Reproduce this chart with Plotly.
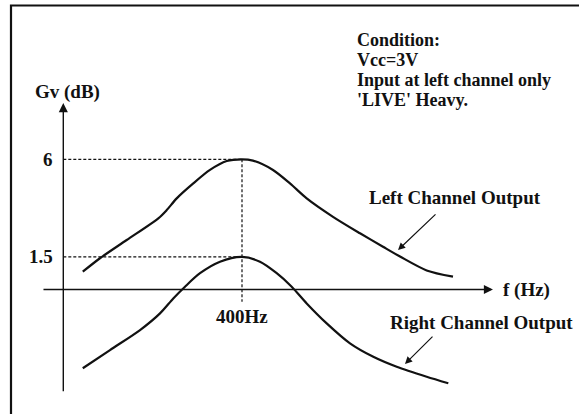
import math
import plotly.graph_objects as go

# ---- data (frequency in Hz, gain in dB) ----
left_freq = [20.3, 28.0, 46.2, 83.5, 97.7, 117.8, 160.7, 219.7, 300.4, 400,
             491, 714.6, 982, 1343, 2198, 3643, 5603, 7702, 12693, 20773]
left_gain = [0.82, 1.44, 2.28, 3.28, 3.66, 4.20, 4.89, 5.51, 5.92, 6.0,
             5.94, 5.51, 4.89, 4.20, 3.35, 2.59, 1.97, 1.52, 0.88, 0.59]

right_freq = [20.3, 33.8, 59.3, 86.2, 110.5, 137.6, 182.3, 265, 400, 560,
              766, 1014, 1343, 1953, 3020, 4673, 7240, 12693, 19026]
right_gain = [-3.63, -2.79, -1.87, -1.10, -0.41, 0.13, 0.75, 1.28, 1.5, 1.28,
              0.75, 0.13, -0.64, -1.56, -2.48, -3.10, -3.56, -4.02, -4.32]

gain_ticks = [6, 1.5]
gain_tick_labels = ["6", "1.5"]
freq_ticks = [400]
freq_tick_labels = ["400Hz"]

condition_lines = ["Condition:", "Vcc=3V", "Input at left channel only", "'LIVE' Heavy."]

# ---- layout constants ----
W, H = 579, 414
FONT = "Liberation Serif, Times New Roman, serif"
INK = "#111111"
YAX_F = 14.1        # frequency where the vertical (gain) axis is drawn
XAX_START_F = 9.46  # left end of frequency axis
XAX_END_F = 43900   # arrow tip of frequency axis
YAX_BOTTOM = -4.76  # bottom end of gain axis
YAX_TOP = 8.59      # arrow tip of gain axis
VLINE_BOTTOM = -0.56

def px(x):
    return x / W

def py(y):
    return 1 - y / H

fig = go.Figure()

# dashed guide lines
for g in gain_ticks:
    fig.add_trace(go.Scatter(x=[YAX_F, freq_ticks[0]], y=[g, g], mode="lines",
                             line=dict(color=INK, width=1.2, dash="3px,2px"),
                             hoverinfo="skip", showlegend=False))
fig.add_trace(go.Scatter(x=[freq_ticks[0], freq_ticks[0]], y=[max(gain_ticks), VLINE_BOTTOM],
                         mode="lines", line=dict(color=INK, width=1.2, dash="3px,2px"),
                         hoverinfo="skip", showlegend=False))

# curves
fig.add_trace(go.Scatter(x=left_freq, y=left_gain, mode="lines",
                         line=dict(color=INK, width=2.2, shape="spline", smoothing=0.8),
                         name="Left Channel Output", showlegend=False))
fig.add_trace(go.Scatter(x=right_freq, y=right_gain, mode="lines",
                         line=dict(color=INK, width=2.2, shape="spline", smoothing=0.8),
                         name="Right Channel Output", showlegend=False))

L = math.log10
annotations = []

# axes as arrows
annotations.append(dict(x=L(YAX_F), y=YAX_TOP, ax=L(YAX_F), ay=YAX_BOTTOM,
                        xref="x", yref="y", axref="x", ayref="y", text="",
                        showarrow=True, arrowhead=2, arrowsize=1.3, arrowwidth=1.4,
                        arrowcolor=INK, standoff=0))
annotations.append(dict(x=L(XAX_END_F), y=0, ax=L(XAX_START_F), ay=0,
                        xref="x", yref="y", axref="x", ayref="y", text="",
                        showarrow=True, arrowhead=2, arrowsize=1.3, arrowwidth=1.4,
                        arrowcolor=INK, standoff=0))

# pointer arrows
annotations.append(dict(x=L(7420), y=1.82, ax=L(15396), ay=3.53,
                        xref="x", yref="y", axref="x", ayref="y", text="",
                        showarrow=True, arrowhead=2, arrowsize=1.2, arrowwidth=1.2,
                        arrowcolor=INK, standoff=0))
annotations.append(dict(x=L(8457), y=-3.43, ax=L(14556), ay=-2.10,
                        xref="x", yref="y", axref="x", ayref="y", text="",
                        showarrow=True, arrowhead=2, arrowsize=1.2, arrowwidth=1.2,
                        arrowcolor=INK, standoff=0))

def txt(text, x, y, xanchor="left", yanchor="middle", xref="paper", yref="paper", size=19):
    annotations.append(dict(text=text, x=x, y=y, xref=xref, yref=yref,
                            xanchor=xanchor, yanchor=yanchor, showarrow=False,
                            font=dict(family=FONT, size=size, color=INK)))

# tick labels
for g, lab in zip(gain_ticks, gain_tick_labels):
    txt(f"<b>{lab}</b>", px(55), g, xanchor="right", yref="y")
for f, lab in zip(freq_ticks, freq_tick_labels):
    txt(f"<b>{lab}</b>", L(f), py(316), xanchor="center", xref="x")

# axis titles
txt("<b>Gv (dB)</b>", px(67.5), py(92), xanchor="center")
txt("<b>f (Hz)</b>", px(501), 0, xanchor="left", yref="y")

# series labels
txt("<b>Left Channel Output</b>", px(367), py(197))
txt("<b>Right Channel Output</b>", px(388), py(322))

# condition block
for i, line in enumerate(condition_lines):
    txt(f"<b>{line}</b>", px(355), py(40 + 20 * i), size=18)

fig.update_layout(
    width=W, height=H,
    margin=dict(l=0, r=0, t=0, b=0),
    paper_bgcolor="white", plot_bgcolor="white",
    xaxis=dict(type="log", range=[0.63458, 5.3419], visible=False, fixedrange=True),
    yaxis=dict(range=[-5.737, 13.341], visible=False, fixedrange=True),
    annotations=annotations,
    shapes=[dict(type="rect", xref="paper", yref="paper",
                 x0=px(11), x1=1.05, y0=-0.05, y1=py(5.5),
                 line=dict(color=INK, width=2.2))],
    showlegend=False,
)

fig.write_html("out.html",
               config={"displayModeBar": False, "staticPlot": True},
               post_script="document.body.style.margin='0';document.body.style.padding='0';"
                           "document.body.style.overflow='hidden';")
